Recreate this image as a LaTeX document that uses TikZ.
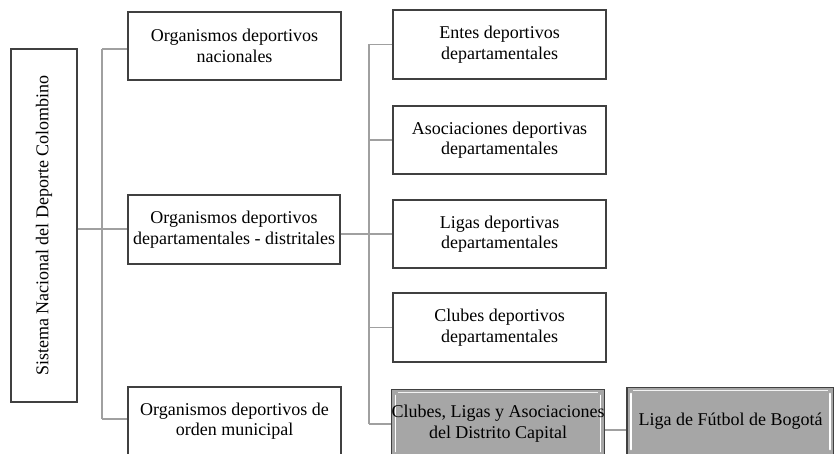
\documentclass[tikz,border=0pt]{standalone}
\usepackage{fontspec}
\usepackage{graphicx}
\setmainfont{Liberation Serif}
\definecolor{linegray}{RGB}{160,160,160}
\definecolor{boxborder}{RGB}{64,64,64}
\definecolor{boxfill}{RGB}{166,166,166}
\begin{document}
\begin{tikzpicture}[x=1pt,y=-1pt,
  every node/.style={font=\fontsize{18pt}{20.5pt}\selectfont, align=center, inner sep=0pt},
  plainbox/.style={draw=boxborder, line width=1.2pt, fill=white, minimum width=213pt, minimum height=68pt},
  graybox/.style={draw=boxborder, line width=1.2pt, fill=boxfill, minimum width=212pt, minimum height=68pt,
    path picture={
      \draw[white, line width=1.6pt, line cap=round]
        ([xshift=4pt,yshift=-6pt]path picture bounding box.north west) -- ([xshift=4pt,yshift=6pt]path picture bounding box.south west);
      \draw[white, line width=1.6pt, line cap=round]
        ([xshift=-4pt,yshift=-6pt]path picture bounding box.north east) -- ([xshift=-4pt,yshift=6pt]path picture bounding box.south east);
      \draw[white!85!boxfill, line width=1pt]
        ([xshift=6pt,yshift=-2.5pt]path picture bounding box.north west) -- ([xshift=-6pt,yshift=-2.5pt]path picture bounding box.north east);
    }},
  conn/.style={draw=linegray, line width=1.5pt}]
\useasboundingbox (0,0) rectangle (834,454);
\clip (0,0) rectangle (834,454);
\fill[white] (0,0) rectangle (834,454);

\node[plainbox, minimum width=66pt, minimum height=353pt] (root) at (44,225.5)
  {\rotatebox{90}{Sistema Nacional del Deporte Colombino}};

\node[plainbox] (A) at (234.5,46) {Organismos deportivos\\nacionales};
\node[plainbox, minimum width=212pt, minimum height=69pt] (B) at (234,229.5) {Organismos deportivos\\departamentales - distritales};
\node[plainbox] (C) at (234.5,421) {Organismos deportivos de\\orden municipal};

\node[plainbox, minimum height=69pt] (R1) at (499.5,44.5) {Entes deportivos\\departamentales};
\node[plainbox] (R2) at (499.5,140) {Asociaciones deportivas\\departamentales};
\node[plainbox] (R3) at (499.5,234) {Ligas deportivas\\departamentales};
\node[plainbox, minimum height=69pt] (R4) at (499.5,327.5) {Clubes deportivos\\departamentales};
\node[graybox] (R5) at (498,423.5) {Clubes, Ligas y Asociaciones\\del Distrito Capital};
\node[graybox, minimum width=207pt] (L) at (730.5,421.5) {Liga de Fútbol de Bogotá};

\coordinate (b1) at (102,229);
\coordinate (b2) at (369,234);

\draw[conn] (root.east |- b1) -- (B.west |- b1);
\draw[conn] (b1 |- 0,49) -- (b1 |- 0,419);
\draw[conn] (b1 |- 0,49) -- (A.west |- 0,49);
\draw[conn] (b1 |- 0,419) -- (C.west |- 0,419);

\draw[conn] (B.east |- b2) -- (R3.west);
\draw[conn] (b2 |- R1.west) -- (b2 |- 0,424);
\draw[conn] (b2 |- R1.west) -- (R1.west);
\draw[conn] (b2 |- R2.west) -- (R2.west);
\draw[conn] (b2 |- R4.west) -- (R4.west);
\draw[conn] (b2 |- 0,424) -- (R5.west |- 0,424);
\draw[conn] (R5.east |- 0,430) -- (L.west |- 0,430);
\end{tikzpicture}
\end{document}
